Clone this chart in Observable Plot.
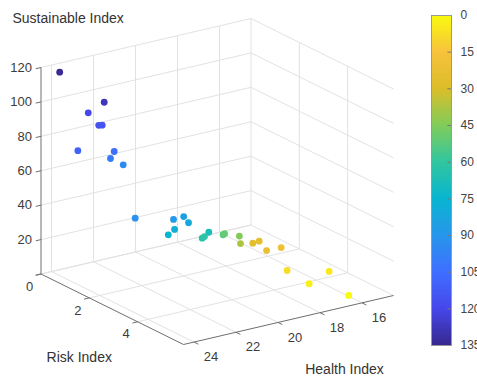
<!DOCTYPE html>
<html><head><meta charset="utf-8">
<script src="https://cdn.jsdelivr.net/npm/d3@7"></script>
<script src="https://cdn.jsdelivr.net/npm/@observablehq/plot@0.6"></script>
<style>
html,body{margin:0;padding:0;background:#fff;}
#wrap{position:relative;width:477px;height:376px;overflow:hidden;font-family:"Liberation Sans",Arial,sans-serif;}
#wrap svg{position:absolute;top:0;}
</style></head><body><div id="wrap"></div>
<script>
// ---- data ----
const riskIndex = [0.2,0.8,0.6,1.0,1.1,0.7,1.5,1.4,1.9,2.3,2.6,2.7,2.9,2.8,2.8,3.2,3.3,3.3,3.6,3.6,3.9,4.0,4.1,4.2,4.4,4.5,4.8,5.0,5.2,5.5];
const healthIndex = [23.84,22.41,22.94,22.90,22.85,23.55,22.74,22.80,22.77,22.66,21.18,20.81,20.81,21.36,21.66,20.19,20.62,20.51,19.97,19.90,19.54,19.60,19.13,18.94,18.82,18.24,18.30,16.53,17.71,16.17];
const sustainableIndex = [116.8,99.4,93.4,88.8,89.4,73.8,76.6,72.0,71.7,43.2,40.3,41.6,39.4,36.4,34.1,34.2,32.7,33.3,34.9,35.3,35.0,31.5,31.1,32.4,28.0,28.8,17.7,13.5,11.1,2.0];
const colorValue = [134,128,120,116,115,110,105,100,95,92,88,85,82,78,75,68,63,62,52,50,45,38,28,25,22,20,8,5,3,0];

const riskTicks = [0,2,4];
const healthTicks = [16,18,20,22,24];
const sustainTicks = [0,20,40,60,80,100,120];
const sustainTickLabels = ["","20","40","60","80","100","120"];
const colorTicks = [0,15,30,45,60,75,90,105,120,135];

const riskDomain = [0,5.9];
const healthDomain = [14.5,24.5];
const sustainDomain = [0,120];
const colorDomain = [0,135];
// colormap stops from value 0 (top) to 135 (bottom)
const colormap = ["#f9fb0e","#f7c23c","#dcbd29","#81cc59","#31c69f","#08b5d0","#2796eb","#3e6fff","#4747eb","#36288f"];

// ---- 3D view (orthographic): screen position of back-bottom corner, screen vector of each axis's full extent ----
const view = {origin:[250.5,224.5], risk:[142.5,70.5], health:[-210,49], sustain:[0,-206.5]};
function proj(r,h,z){
  const u=(r-riskDomain[0])/(riskDomain[1]-riskDomain[0]);
  const v=(h-healthDomain[0])/(healthDomain[1]-healthDomain[0]);
  const w=(z-sustainDomain[0])/(sustainDomain[1]-sustainDomain[0]);
  return [view.origin[0]+u*view.risk[0]+v*view.health[0]+w*view.sustain[0],
          view.origin[1]+u*view.risk[1]+v*view.health[1]+w*view.sustain[1]];
}
const [r0,r1]=riskDomain,[h0,h1]=healthDomain,[z0,z1]=sustainDomain;

// grid segments on the three back planes
const grid=[];
for(const r of riskTicks){grid.push([proj(r,h0,z0),proj(r,h1,z0)]);grid.push([proj(r,h0,z0),proj(r,h0,z1)]);}
for(const h of healthTicks){grid.push([proj(r0,h,z0),proj(r1,h,z0)]);grid.push([proj(r0,h,z0),proj(r0,h,z1)]);}
for(const z of sustainTicks){grid.push([proj(r0,h0,z),proj(r0,h1,z)]);grid.push([proj(r0,h0,z),proj(r1,h0,z)]);}

const axes=[[proj(r0,h1,z0),proj(r0,h1,z1)],[proj(r0,h1,z0),proj(r1,h1,z0)],[proj(r1,h1,z0),proj(r1,h0,z0)]];
const ticks=[];
for(const z of sustainTicks) ticks.push([proj(r0,h1,z),proj(r0,h1+0.25,z)]);
for(const r of riskTicks) ticks.push([proj(r,h1,z0),proj(r,h1+0.25,z0)]);
for(const h of healthTicks) ticks.push([proj(r1,h,z0),proj(r1+0.18,h,z0)]);

const zLabels=sustainTicks.map((z,i)=>{const p=proj(r0,h1,z);return {x:p[0]-9,y:p[1],t:sustainTickLabels[i]};});
const floorLabels=[];
riskTicks.forEach(r=>{const p=proj(r,h1,z0);floorLabels.push({x:p[0]-11.5,y:p[1]+12.5,t:String(r)});});
healthTicks.forEach(h=>{const p=proj(r1,h,z0);floorLabels.push({x:p[0]+17,y:p[1]+15,t:String(h)});});

const zTitle=(()=>{const p=proj(r0,h1,z1);return [{x:p[0]-28.5,y:p[1]-49,t:"Sustainable Index"}];})();
const floorTitles=[];
{const p=proj(r1/2,h1,z0);floorTitles.push({x:p[0]-33,y:p[1]+48,t:"Risk Index"});}
{const p=proj(r1,(h0+h1)/2,z0);floorTitles.push({x:p[0]+56,y:p[1]+50,t:"Health Index"});}

const points=riskIndex.map((r,i)=>({risk:r,health:healthIndex[i],sus:sustainableIndex[i],cv:colorValue[i]}));

const colorSpec={type:"linear",domain:colorDomain,interpolate:d3.piecewise(d3.interpolateRgb,colormap)};
const seg=(data,opts)=>Plot.link(data,{x1:d=>d[0][0],y1:d=>d[0][1],x2:d=>d[1][0],y2:d=>d[1][1],...opts});
const font='"Liberation Sans",Arial,sans-serif';

const main=Plot.plot({
  width:477,height:376,margin:0,
  x:{domain:[0,477],range:[0,477],axis:null},
  y:{domain:[0,376],range:[0,376],axis:null},
  color:colorSpec,
  style:{fontFamily:font,background:"transparent",overflow:"visible"},
  marks:[
    seg(grid,{stroke:"#e2e2e2",strokeWidth:1}),
    seg(axes,{stroke:"#6e6e6e",strokeWidth:1}),
    seg(ticks,{stroke:"#6e6e6e",strokeWidth:1}),
    Plot.dot(points,{x:d=>proj(d.risk,d.health,d.sus)[0],y:d=>proj(d.risk,d.health,d.sus)[1],r:3.4,fill:"cv",stroke:null}),
    Plot.text(zLabels,{x:"x",y:"y",text:"t",textAnchor:"end",fontSize:13,fill:"#3c3c3c"}),
    Plot.text(floorLabels,{x:"x",y:"y",text:"t",textAnchor:"middle",fontSize:13,fill:"#3c3c3c"}),
    Plot.text(zTitle,{x:"x",y:"y",text:"t",textAnchor:"start",fontSize:14,fill:"#333"}),
    Plot.text(floorTitles,{x:"x",y:"y",text:"t",textAnchor:"middle",fontSize:14,fill:"#333"})
  ]
});

const bar=Plot.plot({
  width:57,height:376,marginLeft:11,marginRight:26,marginTop:15,marginBottom:31,
  x:{domain:[0,1],axis:null},
  y:{domain:colorDomain,reverse:true,ticks:colorTicks,tickSize:0,tickPadding:9,label:null,axis:"right",tickFormat:d=>String(d)},
  color:colorSpec,
  style:{fontFamily:font,fontSize:"12px",color:"#444",background:"transparent",overflow:"visible"},
  marks:[
    Plot.rect(d3.range(0,135,1),{x1:0,x2:1,y1:d=>d,y2:d=>Math.min(135,d+1.6),fill:d=>d+0.5,shapeRendering:"crispEdges"}),
    Plot.ruleY(colorTicks,{x1:0.82,x2:1,stroke:"#777"}),
    Plot.frame({stroke:"#999"})
  ]
});
bar.style.left="420px";
const wrap=document.getElementById("wrap");
main.style.left="0px";
wrap.appendChild(main);
wrap.appendChild(bar);
</script></body></html>
